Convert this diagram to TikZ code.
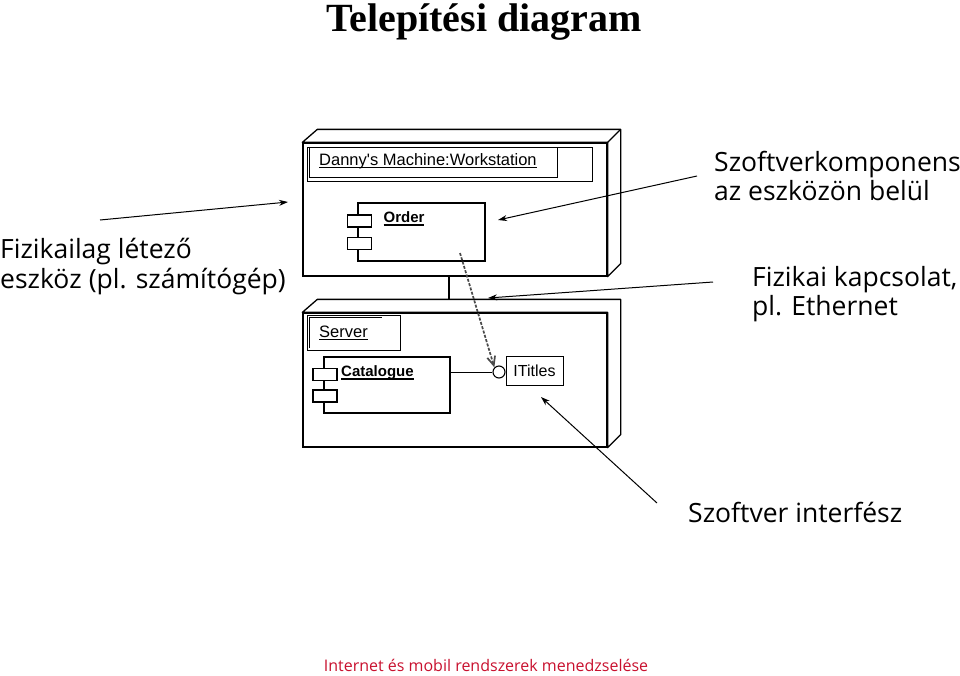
\documentclass[tikz,border=0pt]{standalone}
\usepackage{fontspec}
\setmainfont{Liberation Serif}
\newfontfamily\notefont{Open Sans}
\newfontfamily\umlfont{Liberation Sans}
\usepackage{xcolor}
\usetikzlibrary{arrows.meta,positioning,calc}
\definecolor{FootRed}{HTML}{C8102E}
\definecolor{DepGray}{HTML}{4A4A4A}
\newcommand\ulthick[1]{\setbox0\hbox{#1}\rlap{\rule[-3pt]{\wd0}{1.6pt}}\box0}
\tikzset{
  devface/.style={draw,line width=1.3pt,fill=white,inner sep=0pt},
  devside/.style={draw,line width=1.3pt,line join=round},
  compbox/.style={draw,line width=1.1pt,fill=white,inner sep=0pt},
  portbox/.style={draw,line width=1.1pt,fill=white,minimum width=24pt,minimum height=12pt,inner sep=0pt},
  namebox/.style={draw,line width=0.9pt},
  umltext/.style={font=\umlfont\fontsize{16.5}{18}\selectfont,inner sep=0pt},
  compname/.style={font=\umlfont\bfseries\fontsize{15}{17}\selectfont,inner sep=0pt},
  notetext/.style={font=\notefont\fontsize{26.5}{29.5}\selectfont,align=left,inner sep=0pt},
  notearrow/.style={-{Stealth[length=9pt,width=6pt]},line width=1pt},
  deparrow/.style={-{Straight Barb[length=9pt,width=8pt]},line width=1.7pt,draw=DepGray,dash pattern=on 3pt off 1.5pt}
}
\begin{document}
\begin{tikzpicture}[x=1pt,y=-1pt]
\useasboundingbox (0,0) rectangle (960,675);
% title
\node[font=\bfseries\fontsize{40}{44}\selectfont,inner sep=0pt,anchor=base] (title) at (484,31) {Telepítési diagram};

% workstation node
\node[devface,minimum width=304pt,minimum height=133pt] (ws) at (455,209.5) {};
\draw[devside,fill=white] (ws.north west) -- ++(15,-13) -- ($(ws.north east)+(13,-13)$) -- ($(ws.south east)+(13,-13)$) -- (ws.south east) -- (ws.north east) -- cycle;
\draw[devside] (ws.north east) -- ++(13,-13);
\draw[namebox] (307,147) rectangle (592,181);
\draw[namebox] (309,147) rectangle (557,177);
\node[umltext,anchor=west] (wsname) at (319,161) {\ulthick{Danny's Machine:Workstation}};

% Order component
\node[compbox,minimum width=127pt,minimum height=58pt] (order) at (421.5,232) {};
\node[portbox] (orderp1) at (359.5,221) {};
\node[portbox] (orderp2) at (359.5,243.5) {};
\node[compname] (ordername) at (404,219) {\ulthick{Order}};

% server node
\node[devface,minimum width=304pt,minimum height=134pt] (srv) at (455,380) {};
\draw[devside,fill=white] (srv.north west) -- ++(15,-13) -- ($(srv.north east)+(13,-13)$) -- ($(srv.south east)+(13,-13)$) -- (srv.south east) -- (srv.north east) -- cycle;
\draw[namebox] (307,315) rectangle (400,350);
\draw[namebox] (309,348) -- (309,317) -- (382,317);
\node[umltext,anchor=west] (srvname) at (319,333) {\ulthick{Server}};

% Catalogue component
\node[compbox,minimum width=126pt,minimum height=56pt] (cat) at (387,385) {};
\node[portbox] (catp1) at (325,374.5) {};
\node[portbox] (catp2) at (325,396) {};
\node[compname,anchor=west] (catname) at (341,373) {\ulthick{Catalogue}};

% interface
\node[draw,circle,line width=1.1pt,minimum size=12pt,inner sep=0pt,fill=white] (lollipop) at (499,372) {};
\draw[line width=1pt] (cat.east |- lollipop) -- (lollipop.west);
\node[draw,line width=0.9pt,minimum width=57pt,minimum height=29pt,inner sep=0pt] (ititles) at (534.5,370.5) {};
\node[font=\umlfont\fontsize{16}{18}\selectfont,inner sep=0pt] at (ititles) {ITitles};

% physical link
\draw[line width=1.3pt] (449,276) -- (449,300);

% dependency
\coordinate (depstart) at (460,253);
\draw[deparrow] (depstart) -- (lollipop.north west);

% notes
\node[notetext,anchor=north west] (devnote) at (0,238) {Fizikailag létező\\eszköz (pl. számítógép)};
\coordinate (devtail) at (100,220);
\draw[notearrow] (devtail) -- (288,202);

\node[notetext,anchor=north west] (compnote) at (714,151) {Szoftverkomponens\\az eszközön belül};
\coordinate (comptail) at (697,176);
\draw[notearrow] (comptail) -- (498,220);

\node[notetext,anchor=north west] (linknote) at (752,266) {Fizikai kapcsolat,\\pl. Ethernet};
\coordinate (linktail) at (713,282);
\draw[notearrow] (linktail) -- (488,298);

\node[notetext,anchor=north west] (ifnote) at (688,502) {Szoftver interfész};
\coordinate (iftail) at (657,503);
\draw[notearrow] (iftail) -- (541,397);

% footer
\node[font=\notefont\fontsize{16}{18}\selectfont,text=FootRed,inner sep=0pt] (footer) at (486,665) {Internet és mobil rendszerek menedzselése};
\end{tikzpicture}
\end{document}
